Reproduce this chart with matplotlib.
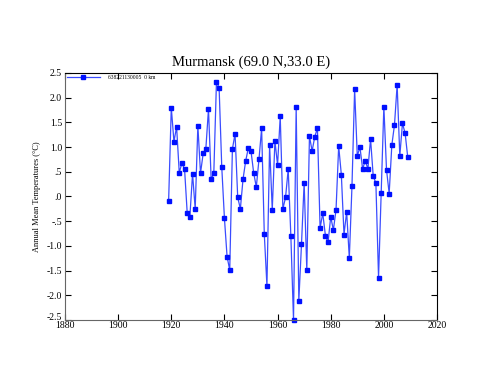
import matplotlib
matplotlib.use('Agg')
import matplotlib.pyplot as plt
import matplotlib.transforms as mtransforms

plt.rcParams['font.family'] = ['Liberation Serif', 'DejaVu Serif']

# Datos
years = list(range(1919, 2010))
temps = [-0.09, 1.80, 1.11, 1.41, 0.48, 0.68, 0.55, -0.34, -0.41, 0.46,
         -0.25, 1.43, 0.47, 0.87, 0.96, 1.77, 0.35, 0.47, 2.32, 2.20,
         0.59, -0.44, -1.22, -1.49, 0.96, 1.27, -0.02, -0.25, 0.35, 0.72,
         0.98, 0.92, 0.48, 0.19, 0.75, 1.38, -0.76, -1.81, 1.04, -0.27,
         1.12, 0.64, 1.62, -0.25, -0.02, 0.55, -0.80, -2.50, 1.81, -2.11,
         -0.97, 0.28, -1.49, 1.22, 0.92, 1.21, 1.38, -0.64, -0.34, -0.79,
         -0.93, -0.41, -0.68, -0.27, 1.02, 0.44, -0.77, -0.31, -1.25, 0.21,
         2.17, 0.82, 1.00, 0.56, 0.72, 0.56, 1.16, 0.41, 0.27, -1.64,
         0.08, 1.82, 0.54, 0.06, 1.04, 1.45, 2.26, 0.82, 1.48, 1.28, 0.79]

xticks = [1880, 1900, 1920, 1940, 1960, 1980, 2000, 2020]
yticks = [2.5, 2.0, 1.5, 1.0, 0.5, 0.0, -0.5, -1.0, -1.5, -2.0, -2.5]
ytick_labels = ['2.5', '2.0', '1.5', '1.0', '.5', '.0', '-.5', '-1.0', '-1.5', '-2.0', '-2.5']

fig = plt.figure(figsize=(5.0, 3.86), dpi=100)
ax = fig.add_axes([0.13, 0.171, 0.744, 0.640])

ax.plot(years, temps, '-s', color='#3a4cff', lw=0.9, ms=2.4,
        mec='#0010ff', mfc='#0010ff', clip_on=False,
        label='638221130005  0 km')

ax.set_xlim(1880, 2020)
ax.set_ylim(-2.5, 2.5)
ax.set_xticks(xticks)
ax.set_yticks(yticks)
ax.set_yticklabels(ytick_labels)
ax.tick_params(direction='in', length=4, width=0.8, labelsize=7,
               top=True, right=True, pad=2)
ax.tick_params(axis='x', pad=1)

# subir un poco la etiqueta -2.5 como en el original
lbl = ax.get_yticklabels()[-1]
lbl.set_transform(lbl.get_transform() +
                  mtransforms.ScaledTranslation(0, 3 / 100, fig.dpi_scale_trans))

for s in ax.spines.values():
    s.set_linewidth(0.8)
ax.spines['left'].set_color('#666666')
ax.spines['bottom'].set_color('#666666')

ax.set_title('Murmansk (69.0 N,33.0 E)', fontsize=10.5, pad=5)
ax.set_ylabel('Annual Mean Temperatures (\u00b0C)', fontsize=6, labelpad=4)

ax.legend(loc='upper left', frameon=False, fontsize=4, handlelength=6,
          borderpad=0.2, borderaxespad=0.1, handletextpad=1.5)

fig.savefig('out.png', dpi=100)
